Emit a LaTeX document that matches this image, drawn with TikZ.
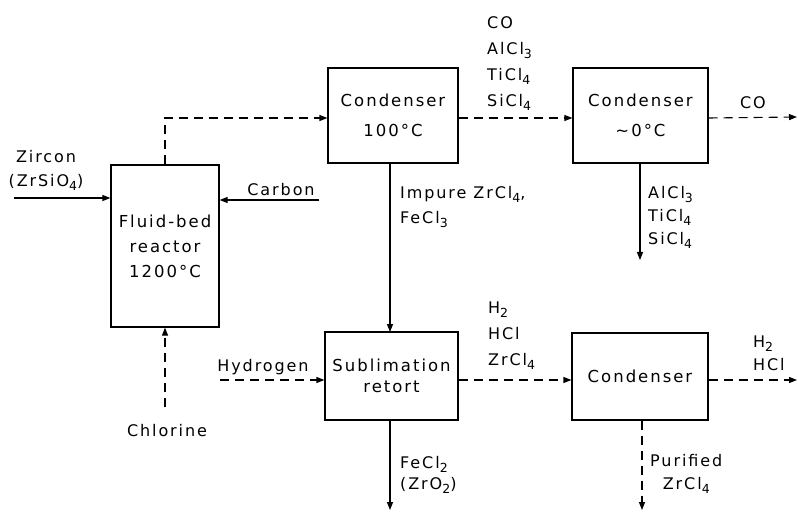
\documentclass[tikz,border=0pt]{standalone}
\usepackage{fontspec}
\setmainfont{DejaVu Sans}[LetterSpace=12]
\usetikzlibrary{arrows.meta}
\newcommand\sbs[1]{\raisebox{-0.45ex}{\fontsize{12.5}{12.5}\selectfont #1}}
\begin{document}
\begin{tikzpicture}[x=1pt,y=-1pt,
  unit/.style={draw,line width=1.1pt,inner sep=0pt,align=center,font=\fontsize{16.5}{30}\selectfont},
  lbl/.style={inner sep=0pt,font=\fontsize{16}{26}\selectfont},
  flow/.style={line width=1.1pt,-{Triangle[length=8pt,width=6pt]}},
  gas/.style={flow,dash pattern=on 9pt off 6pt}]
\useasboundingbox (0,0) rectangle (798,513);
% units
\node[unit,minimum width=108pt,minimum height=162pt] (reactor) at (165,246) {Fluid-bed\\[-5pt]reactor\\[-5pt]1200°C};
\node[unit,minimum width=130pt,minimum height=95pt] (c1) at (393,115.5) {Condenser\\100°C};
\node[unit,minimum width=135pt,minimum height=95pt] (c2) at (640.5,115.5) {Condenser\\∼0°C};
\node[unit,minimum width=133pt,minimum height=88pt] (retort) at (391.5,376) {Sublimation\\[-9pt]retort};
\node[unit,minimum width=136pt,minimum height=87pt] (c3) at (640,376.5) {Condenser};
% free ends
\coordinate (zin) at (14,198);
\coordinate (cin) at (319,200);
\coordinate (clin) at (165,407);
\coordinate (hin) at (220,380);
\coordinate (bend) at (165,118);
\coordinate (coout) at (797,117);
\coordinate (c2out) at (640,260);
\coordinate (retout) at (390,510);
\coordinate (c3bot) at (642,510);
\coordinate (hout) at (797,380);
% connectors
\draw[flow] (zin) -- (zin -| reactor.west);
\draw[flow] (cin) -- (cin -| reactor.east);
\draw[gas] (clin) -- (reactor.south);
\draw[gas] (hin) -- (hin -| retort.west);
\draw[gas] (reactor.north) -- (bend) -- (bend -| c1.west);
\draw[gas] (c1.east |- bend) -- (c2.west |- bend);
\draw[gas] (c2.east |- bend) -- (coout);
\draw[flow] (c2out |- c2.south) -- (c2out);
\draw[flow] (390,163) -- (390,332);
\draw[flow] (retout |- retort.south) -- (retout);
\draw[gas] (retort.east |- hin) -- (c3.west |- hin);
\draw[gas] (c3.east |- hin) -- (hout);
\draw[gas] (c3bot |- c3.south) -- (c3bot);
% labels
\node[lbl,align=center] (lzir) at (46,170) {Zircon\\[-2pt](ZrSiO\sbs{4})};
\node[lbl] (lcarb) at (281,190) {Carbon};
\node[lbl] (lchl) at (167,431) {Chlorine};
\node[lbl] (lhyd) at (263,367) {Hydrogen};
\node[lbl,align=left,anchor=north west] (ltop) at (487,16) {CO\\AlCl\sbs{3}\\TiCl\sbs{4}\\SiCl\sbs{4}};
\node[lbl] (lco) at (753,103) {CO};
\node[lbl,align=left,anchor=north west] (lc2) at (648,186) {AlCl\sbs{3}\\[-3pt]TiCl\sbs{4}\\[-3pt]SiCl\sbs{4}};
\node[lbl,align=left,anchor=north west] (limp) at (400,186) {Impure ZrCl\sbs{4},\\[-1pt]FeCl\sbs{3}};
\node[lbl,align=left,anchor=north west] (lmid) at (488,302) {H\sbs{2}\\HCl\\ZrCl\sbs{4}};
\node[lbl,align=left,anchor=north west] (lhout) at (753,336) {H\sbs{2}\\[-3pt]HCl};
\node[lbl,align=left,anchor=north west] (lfe) at (400,456) {FeCl\sbs{2}\\[-5pt](ZrO\sbs{2})};
\node[lbl,align=center,anchor=north west] (lpur) at (650,454) {Purified\\[-3pt]ZrCl\sbs{4}};
\end{tikzpicture}
\end{document}
